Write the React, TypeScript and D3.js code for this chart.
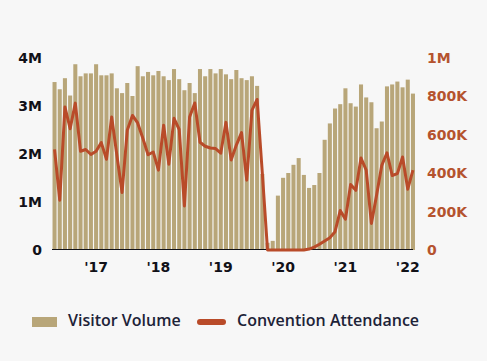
import * as d3 from "d3";
import React from "react";

const W = 487;
const H = 361;

// monthly categories, May 2016 .. Feb 2022
const months = d3.timeMonth.range(new Date(2016, 4, 1), new Date(2022, 2, 1));

// visitor volume, millions
const visitors = [
  3.49, 3.34, 3.57, 3.21, 3.86, 3.61, 3.67, 3.67, 3.86, 3.63, 3.63, 3.67, 3.36, 3.26, 3.47, 3.2, 3.82, 3.61,
  3.7, 3.63, 3.72, 3.61, 3.53, 3.76, 3.55, 3.32, 3.47, 3.26, 3.76, 3.61, 3.76, 3.67, 3.76, 3.65, 3.55, 3.74,
  3.57, 3.53, 3.61, 3.41, 1.58, 0.15, 0.19, 1.13, 1.5, 1.6, 1.77, 1.91, 1.56, 1.29, 1.35, 1.6, 2.29,
  2.63, 2.94, 3.03, 3.36, 3.05, 2.98, 3.44, 3.17, 3.07, 2.53, 2.67, 3.4, 3.44, 3.5, 3.38, 3.54, 3.25,
];

// convention attendance, thousands
const attendance = [
  523, 259, 743, 630, 763, 513, 522, 496, 513, 558, 471, 691, 492, 299, 622, 699, 660, 580,
  495, 509, 415, 648, 446, 684, 626, 229, 691, 764, 560, 539, 530, 527, 503, 663, 468, 545,
  610, 363, 725, 782, 400, 0, 0, 0, 0, 0, 0, 0, 0, 5, 15, 30, 47,
  64, 95, 205, 160, 340, 310, 478, 415, 138, 285, 440, 505, 387, 397, 483, 316, 415,
];

const leftTicks = [0, 1, 2, 3, 4];
const leftLabels = ["0", "1M", "2M", "3M", "4M"];
const rightTicks = [0, 200, 400, 600, 800, 1000];
const rightLabels = ["0", "200K", "400K", "600K", "800K", "1M"];

const BAR = "#b8a679";
const LINE = "#b94b29";
const RIGHT_TXT = "#b5532e";
const DARK = "#111118";
const FONT = "'DejaVu Sans', Verdana, sans-serif";

export default function App() {
  const x = d3
    .scaleBand<number>()
    .domain(d3.range(months.length))
    .range([52, 415.5])
    .paddingInner(0.22)
    .paddingOuter(0.1);
  const yL = d3.scaleLinear().domain([0, 4]).range([250, 57.5]);
  const yR = d3.scaleLinear().domain([0, 1000]).range([250, 57.5]);

  const line = d3
    .line<number>()
    .x((_, i) => (x(i) as number) + x.bandwidth() / 2)
    .y((d) => yR(d));

  const yearTicks = months
    .map((m, i) => ({ m, i }))
    .filter((d) => d.m.getMonth() === 0);

  return (
    <div style={{ position: "fixed", inset: 0, background: "#f7f7f7" }}>
      <svg width={W} height={H} style={{ display: "block", fontFamily: FONT }}>
        {visitors.map((v, i) => (
          <rect
            key={i}
            x={x(i)}
            y={yL(v)}
            width={x.bandwidth()}
            height={yL(0) - yL(v)}
            fill={BAR}
          />
        ))}
        <line x1={52} x2={413} y1={249.5} y2={249.5} stroke={DARK} strokeWidth={1} />
        <path
          d={line(attendance) || ""}
          fill="none"
          stroke={LINE}
          strokeWidth={3}
          strokeLinejoin="round"
        />

        {/* left axis */}
        {leftTicks.map((t, i) => (
          <text
            key={t}
            x={42}
            y={yL(t) + 1}
            textAnchor="end"
            dominantBaseline="middle"
            fontSize={14}
            fontWeight="bold"
            fill={DARK}
          >
            {leftLabels[i]}
          </text>
        ))}

        {/* right axis */}
        {rightTicks.map((t, i) => (
          <text
            key={t}
            x={427}
            y={yR(t) + 1}
            dominantBaseline="middle"
            fontSize={14}
            fontWeight="bold"
            fill={RIGHT_TXT}
          >
            {rightLabels[i]}
          </text>
        ))}

        {/* year ticks */}
        {yearTicks.map(({ m, i }) => (
          <text
            key={i}
            x={(x(i) as number) + x.bandwidth() / 2}
            y={272}
            textAnchor="middle"
            fontSize={14}
            fontWeight="bold"
            fill={DARK}
          >
            {"'" + d3.timeFormat("%y")(m)}
          </text>
        ))}

        {/* legend */}
        <g fontFamily="'Open Sans', sans-serif" fontSize={16} fontWeight={600} fill="#1d2338">
          <rect x={32} y={317} width={25} height={10} fill={BAR} />
          <text x={68} y={322} dominantBaseline="middle">
            Visitor Volume
          </text>
          <line
            x1={200}
            x2={223}
            y1={322}
            y2={322}
            stroke={LINE}
            strokeWidth={6}
            strokeLinecap="round"
          />
          <text x={237} y={322} dominantBaseline="middle">
            Convention Attendance
          </text>
        </g>
      </svg>
    </div>
  );
}
